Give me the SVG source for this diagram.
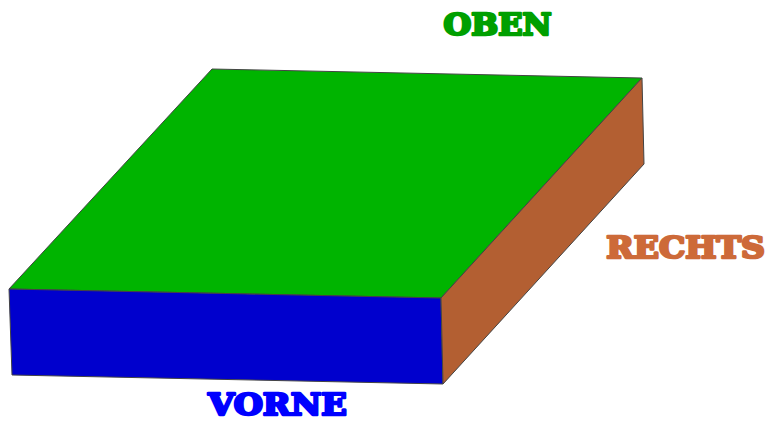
<svg xmlns="http://www.w3.org/2000/svg" width="768" height="421" viewBox="0 0 768 421">
<style>
.face{stroke:#444;stroke-width:1;stroke-linejoin:round}
.lbl{font-family:"DejaVu Serif","Liberation Serif",serif;font-weight:bold;font-size:30px;stroke-width:2.6;stroke-linejoin:round}
</style>
<rect width="768" height="421" fill="#fff"/>
<g id="oben-face"><polygon class="face" fill="#00b400" points="212,69 642,78 441,298 9,289"/></g>
<g id="vorne-face"><polygon class="face" fill="#0000cd" points="9,289 441,298 443,384 12,375"/></g>
<g id="rechts-face"><polygon class="face" fill="#b35f32" points="642,78 644,164 443,384 441,298"/></g>
<g id="oben-label"><text class="lbl" x="443.500" y="34.700" fill="#009f00" stroke="#009f00" textLength="108" lengthAdjust="spacingAndGlyphs">OBEN</text></g>
<g id="rechts-label"><text class="lbl" x="606.300" y="257.500" fill="#cd6a39" stroke="#cd6a39" textLength="158.500" lengthAdjust="spacingAndGlyphs">RECHTS</text></g>
<g id="vorne-label"><text class="lbl" x="208.300" y="415.300" fill="#0000ff" stroke="#0000ff" textLength="138.500" lengthAdjust="spacingAndGlyphs">VORNE</text></g>
</svg>
